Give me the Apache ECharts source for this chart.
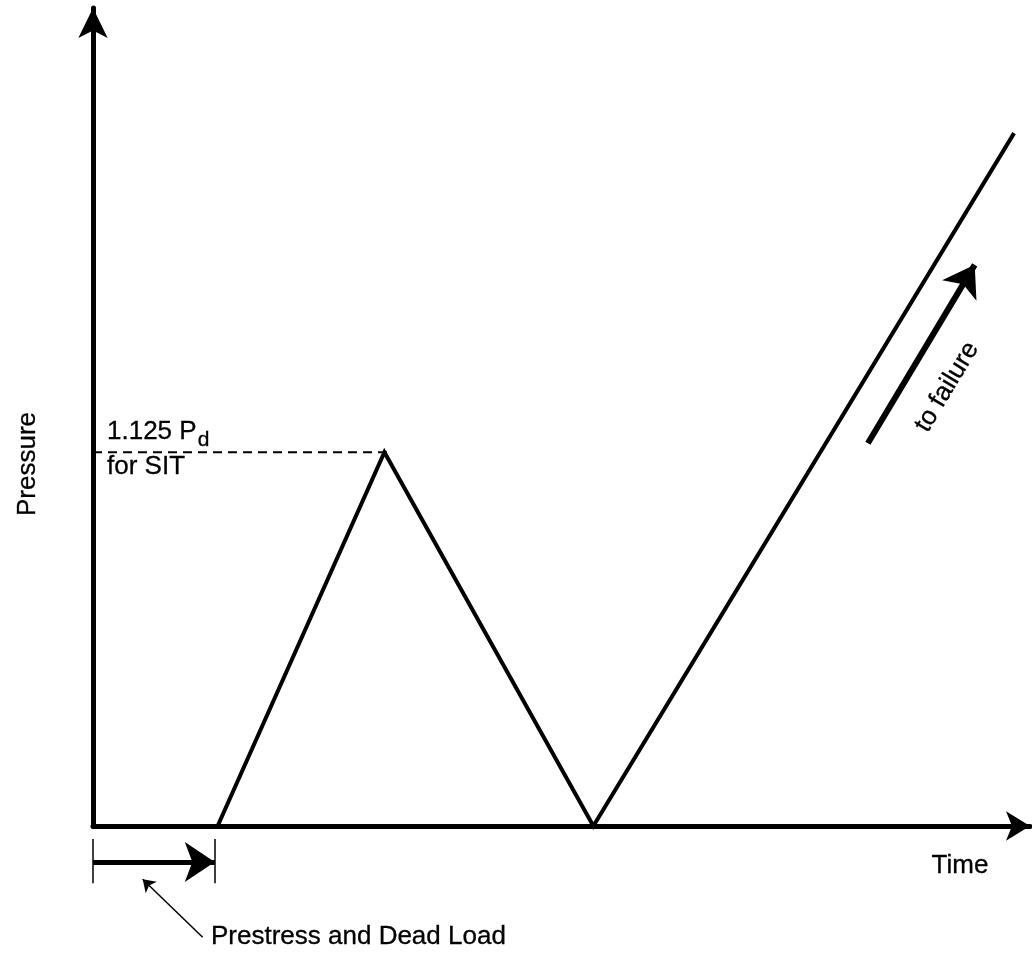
<!DOCTYPE html>
<html>
<head>
<meta charset="utf-8">
<script src="https://cdn.jsdelivr.net/npm/echarts@6/dist/echarts.min.js"></script>
<style>
html,body{margin:0;padding:0;background:#fff;}
#main{width:1032px;height:957px;}
</style>
</head>
<body>
<div id="main"></div>
<script>
// Load history (time, pressure) in arbitrary units
var loadPath = [[0, 0], [13.3, 0], [31.1, 45.7], [53.4, 0], [98.3, 84.7]];
// SIT level reference
var sitLevel = [[0, 45.7], [31.4, 45.7]];
// Prestress bracket (time span) and annotation arrows
var bracketTicks = [[[0, -1.6], [0, -7.0]], [[13.0, -1.6], [13.0, -7.0]]];
var bracketArrow = [[0, -4.4], [13.0, -4.4]];
var pointerArrow = [[11.7, -13.6], [5.3, -6.5]];
var failureArrow = [[82.7, 46.8], [94.1, 68.6]];
// Text labels
var labels = {
  yName: 'Pressure',
  xName: 'Time',
  sit1: '1.125 P',
  sitSub: 'd',
  sit2: 'for SIT',
  bracket: 'Prestress and Dead Load',
  failure: 'to failure'
};

var FONT = '"Liberation Sans", Arial, Helvetica, sans-serif';
var FS = 26;
var chart = echarts.init(document.getElementById('main'), null, {renderer: 'canvas'});

function axisCommon(sym) {
  return {
    type: 'value', min: 0, max: 100,
    axisLine: {show: true, onZero: false, lineStyle: {color: '#000', width: 5},
      symbol: ['none', 'arrow'], symbolSize: sym},
    axisTick: {show: false}, axisLabel: {show: false}, splitLine: {show: false}
  };
}
function txt(text, x, y, size, align, rot) {
  return {
    type: 'text', x: x, y: y, rotation: rot || 0, z: 100,
    style: {text: text, x: 0, y: 0, fill: '#000', font: size + 'px ' + FONT,
      textAlign: align || 'left', textVerticalAlign: 'middle',
      stroke: '#000', lineWidth: 0.3}
  };
}
var ctx = document.createElement('canvas').getContext('2d');
ctx.font = FS + 'px ' + FONT;
var sitW = ctx.measureText(labels.sit1).width;

chart.setOption({
  animation: false,
  backgroundColor: '#fff',
  grid: {left: 93, right: 2, top: 8, bottom: 131, containLabel: false},
  xAxis: axisCommon([22, 24]),
  yAxis: axisCommon([22, 30]),
  series: [
    {type: 'line', data: loadPath, symbol: 'none', clip: false, z: 5,
      lineStyle: {color: '#000', width: 4, join: 'miter'}},
    {type: 'line', data: sitLevel, symbol: 'none', clip: false, z: 4,
      lineStyle: {color: '#000', width: 2, type: [9, 6]}},
    {type: 'lines', coordinateSystem: 'cartesian2d', clip: false, z: 6,
      symbol: 'none', lineStyle: {color: '#000', width: 1.5, opacity: 1},
      data: bracketTicks.map(function (c) { return {coords: c}; })},
    {type: 'lines', coordinateSystem: 'cartesian2d', clip: false, z: 6,
      symbol: ['none', 'arrow'], symbolSize: [21, 30],
      lineStyle: {color: '#000', width: 5, opacity: 1},
      data: [{coords: bracketArrow}]},
    {type: 'lines', coordinateSystem: 'cartesian2d', clip: false, z: 6,
      symbol: ['none', 'arrow'], symbolSize: [8, 12],
      lineStyle: {color: '#000', width: 1.5, opacity: 1},
      data: [{coords: pointerArrow}]},
    {type: 'lines', coordinateSystem: 'cartesian2d', clip: false, z: 6,
      symbol: ['none', 'arrow'], symbolSize: [22, 30],
      lineStyle: {color: '#000', width: 6, opacity: 1},
      data: [{coords: failureArrow}]}
  ],
  graphic: [
    txt(labels.sit1, 107, 432, FS),
    txt(labels.sitSub, 107 + sitW + 1, 440, 21),
    txt(labels.sit2, 107, 467, FS),
    txt(labels.yName, 28, 464, FS, 'center', Math.PI / 2),
    txt(labels.xName, 960, 866, FS, 'center'),
    txt(labels.bracket, 211, 937, FS),
    txt(labels.failure, 947, 387, FS, 'center', 59 * Math.PI / 180)
  ]
});
</script>
</body>
</html>
